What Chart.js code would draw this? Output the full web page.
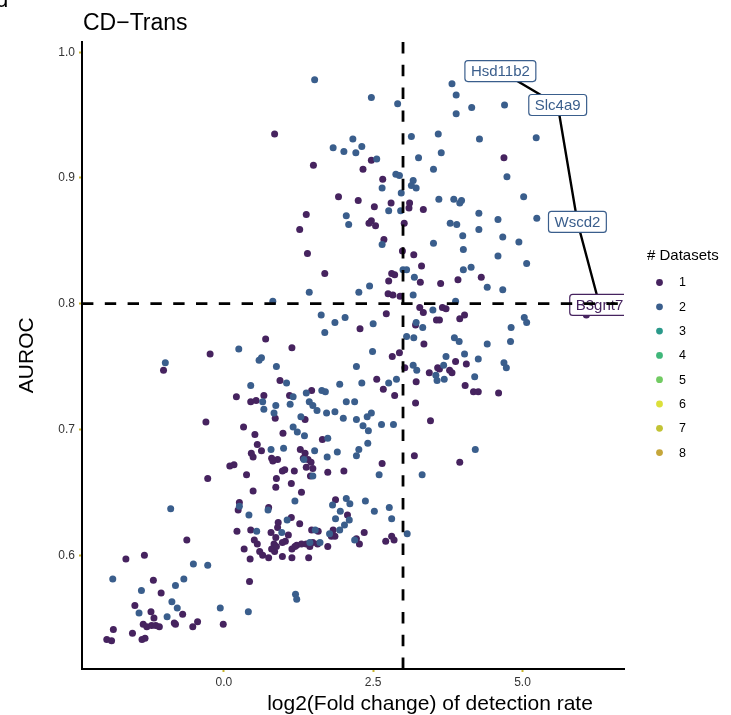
<!DOCTYPE html>
<html>
<head>
<meta charset="utf-8">
<script src="https://cdn.jsdelivr.net/npm/chart.js@4"></script>
<style>
body{margin:0;background:#fff}
#wrap{width:731px;height:715px;position:relative}
</style>
</head>
<body>
<div id="wrap"><canvas id="myChart" width="731" height="715"></canvas></div>
<script>

// genes found in 1 dataset (purple)
const oneX = [0.70,1.14,-0.23,-1.01,0.94,0.21,0.67,0.45,0.54,0.86,1.10,1.47,1.36,-0.30,0.33,0.52,0.99,1.65,0.56,0.63,
  0.46,0.49,0.80,0.90,0.82,1.28,1.36,1.33,1.41,1.46,1.38,1.49,1.45,1.74,0.10,0.17,0.98,1.02,1.18,0.88,
  0.38,-0.27,1.13,0.87,0.49,1.30,0.26,0.24,0.75,1.13,0.91,0.90,1.27,0.22,0.45,0.79,0.87,0.84,1.08,1.03,
  0.98,1.47,1.58,0.51,0.56,0.34,0.60,0.65,0.75,0.44,0.80,0.85,0.88,0.98,1.14,1.14,1.22,1.30,1.38,1.44,
  1.49,1.57,1.19,1.42,1.74,-0.62,-1.64,-1.33,-1.18,-1.05,0.43,-1.49,-1.22,-1.17,-0.69,-1.35,-1.29,-1.21,-1.14,-1.08,
  -0.83,-0.81,-0.52,-0.44,-0.01,-1.85,-1.53,-1.96,-1.88,-1.37,-1.32,0.85,1.50,2.47,2.33,2.66,1.92,2.25,2.52,2.80,
  3.11,3.10,3.34,1.38,1.27,2.47,2.43,2.54,3.02,2.68,1.40,2.99,3.18,1.69,3.31,2.81,2.86,2.76,3.29,3.63,
  3.92,4.31,2.75,2.83,2.95,2.72,3.28,3.34,3.66,3.72,3.56,3.61,3.95,4.03,2.28,3.21,4.69,6.07,3.35,2.82,
  2.94,3.03,3.88,4.06,3.44,3.58,3.61,3.78,3.82,2.56,2.67,3.22,2.86,4.04,4.18,4.26,4.60,3.21,3.46,2.65,
  3.19,3.95,2.01,1.87,2.07,1.83,1.80,1.86,2.35,2.22,2.27,2.71,2.81,2.85]
const oneY = [0.772,0.765,0.760,0.747,0.739,0.726,0.727,0.722,0.723,0.709,0.727,0.731,0.708,0.706,0.702,0.696,0.697,0.692,0.688,0.683,
  0.681,0.678,0.677,0.676,0.675,0.684,0.681,0.677,0.676,0.674,0.670,0.669,0.663,0.666,0.671,0.672,0.667,0.668,0.667,0.661,
  0.664,0.661,0.657,0.654,0.651,0.650,0.642,0.636,0.638,0.630,0.626,0.622,0.625,0.619,0.620,0.618,0.614,0.609,0.616,0.611,
  0.610,0.620,0.619,0.612,0.609,0.605,0.603,0.600,0.598,0.597,0.605,0.603,0.607,0.599,0.598,0.605,0.608,0.609,0.609,0.607,
  0.610,0.609,0.607,0.598,0.607,0.612,0.597,0.600,0.580,0.570,0.579,0.560,0.555,0.550,0.553,0.545,0.543,0.544,0.544,0.543,
  0.546,0.545,0.543,0.547,0.545,0.541,0.538,0.533,0.532,0.533,0.534,0.935,0.910,0.914,0.907,0.899,0.885,0.882,0.877,0.880,
  0.880,0.876,0.875,0.871,0.859,0.866,0.864,0.862,0.864,0.851,0.840,0.842,0.839,0.824,0.830,0.824,0.823,0.818,0.817,0.816,
  0.819,0.821,0.808,0.807,0.806,0.792,0.797,0.793,0.797,0.796,0.787,0.787,0.788,0.791,0.780,0.783,0.916,0.791,0.768,0.758,
  0.761,0.749,0.754,0.752,0.745,0.749,0.748,0.747,0.745,0.740,0.732,0.738,0.727,0.735,0.730,0.730,0.729,0.721,0.707,0.673,
  0.679,0.674,0.667,0.644,0.632,0.620,0.615,0.615,0.618,0.613,0.609,0.611,0.615,0.612]

// genes found in 2 datasets (blue)
const twoX = [1.69,0.25,0.59,0.63,-0.98,0.88,1.05,0.45,0.65,0.67,0.87,0.84,1.16,1.11,1.38,1.64,1.70,1.43,1.49,1.56,
  1.72,1.29,1.16,1.23,1.35,1.74,0.79,1.00,1.52,1.34,1.49,1.73,1.19,0.26,0.74,0.42,-0.89,1.06,0.55,0.97,
  1.53,1.44,1.61,-0.51,-0.27,-1.86,-0.67,-0.81,-1.38,-0.87,-0.78,-1.42,-0.95,-0.06,0.41,1.20,1.22,1.52,2.47,2.91,
  3.82,3.89,4.15,3.89,2.16,2.31,1.83,2.01,2.21,3.14,3.59,4.28,3.64,3.26,2.56,3.51,2.88,2.94,2.65,3.17,
  3.14,3.22,2.97,3.60,3.85,3.95,3.98,4.27,4.59,2.05,2.09,2.76,2.96,3.79,3.90,4.00,4.27,2.65,3.51,4.01,
  4.59,3.00,3.06,3.19,4.01,4.14,4.41,1.43,2.26,2.44,3.17,0.82,3.88,1.63,2.03,1.86,3.50,2.50,3.33,3.06,
  3.18,3.86,4.70,5.23,4.74,5.02,5.24,4.67,4.94,5.07,4.67,5.03,5.07,4.81,3.22,3.94,4.41,4.80,2.49,2.22,
  3.17,3.23,3.72,4.03,4.26,3.68,4.69,4.73,3.55,3.57,3.69,4.20,2.76,2.89,2.31,1.94,2.05,2.19,1.86,2.00,
  2.22,2.40,2.47,2.33,2.42,2.64,2.84,2.41,1.90,2.26,2.22,4.21,2.60,3.32,1.82,2.05,2.11,2.37,1.95,2.52,
  2.77,1.87,2.10,2.81,2.02,1.94,1.77,2.19,3.07]
const twoY = [0.777,0.764,0.755,0.757,0.753,0.750,0.737,0.735,0.722,0.716,0.719,0.713,0.726,0.720,0.729,0.731,0.730,0.722,0.719,0.715,
  0.713,0.710,0.702,0.698,0.695,0.693,0.684,0.685,0.683,0.676,0.663,0.678,0.643,0.639,0.636,0.632,0.637,0.628,0.619,0.618,
  0.620,0.610,0.610,0.593,0.592,0.581,0.581,0.576,0.572,0.563,0.558,0.554,0.551,0.558,0.555,0.569,0.565,0.978,0.964,0.959,
  0.975,0.966,0.956,0.951,0.931,0.925,0.924,0.921,0.920,0.933,0.935,0.931,0.920,0.916,0.915,0.907,0.903,0.902,0.892,0.898,
  0.894,0.892,0.888,0.883,0.883,0.880,0.882,0.872,0.867,0.870,0.863,0.874,0.874,0.864,0.863,0.854,0.859,0.847,0.848,0.843,
  0.838,0.827,0.827,0.821,0.827,0.829,0.813,0.809,0.809,0.814,0.807,0.802,0.802,0.791,0.789,0.785,0.795,0.784,0.781,0.774,
  0.773,0.773,0.958,0.932,0.901,0.885,0.868,0.853,0.849,0.832,0.811,0.789,0.785,0.781,0.785,0.770,0.768,0.770,0.762,0.750,
  0.751,0.747,0.758,0.760,0.756,0.751,0.753,0.749,0.743,0.739,0.740,0.742,0.737,0.740,0.737,0.736,0.722,0.722,0.714,0.709,
  0.708,0.710,0.713,0.703,0.699,0.704,0.704,0.689,0.682,0.684,0.679,0.684,0.664,0.664,0.640,0.645,0.641,0.643,0.635,0.635,
  0.638,0.629,0.628,0.629,0.624,0.620,0.617,0.612,0.617]

// labelled genes
const geneNames = ['Hsd11b2','Slc4a9','Wscd2','B3gnt7']
const geneX = [4.63,5.59,5.92,6.29]
const geneY = [0.985,0.958,0.865,0.799]
const geneGroup = [2,2,2,1]

// cut-offs
const foldCut = 3
const aurocCut = 0.8

// axes
const xTicks = [0,2.5,5]
const yTicks = [0.6,0.7,0.8,0.9,1.0]
const xMin = -2.375, xMax = 6.70
const yMin = 0.5095, yMax = 1.0085

// legend
const legendLabels = ['1','2','3','4','5','6','7','8']
const legendColors = ['#46235F','#3A5E8C','#2A998A','#40B77A','#72CB63','#DCE03A','#C2C334','#C5A63A']

const FONT = '"Liberation Sans", Arial, sans-serif'

function toPoints(xs,ys){
  return xs.map((v,i)=>({x:v,y:ys[i]}))
}

function drawGeneLabels(chart){
  const ctx=chart.ctx, a=chart.chartArea
  const sx=chart.scales.x, sy=chart.scales.y
  ctx.save()
  ctx.beginPath()
  ctx.rect(a.left,a.top,a.right-a.left,a.bottom-a.top)
  ctx.clip()
  ctx.font='15px '+FONT
  ctx.textAlign='center'
  ctx.textBaseline='middle'
  for(let i=0;i<geneNames.length;i++){
    const px=sx.getPixelForValue(geneX[i])
    const py=sy.getPixelForValue(geneY[i])
    const w=ctx.measureText(geneNames[i]).width+12
    const h=21
    const col=legendColors[geneGroup[i]-1]
    ctx.beginPath()
    ctx.roundRect(px-w/2,py-h/2,w,h,3)
    ctx.fillStyle='#fff'
    ctx.fill()
    ctx.lineWidth=1.2
    ctx.strokeStyle=col
    ctx.stroke()
    ctx.fillStyle=col
    ctx.fillText(geneNames[i],px,py+1)
  }
  ctx.restore()
}

const extras = {
  id:'extras',
  afterDatasetDraw(chart,args){
    if(args.meta.label==='path') drawGeneLabels(chart)
  },
  afterDraw(chart){
    const ctx=chart.ctx, a=chart.chartArea
    ctx.save()
    ctx.fillStyle='#000'
    // panel tag, cut at the top
    ctx.font='22px '+FONT
    ctx.textAlign='left'
    ctx.textBaseline='alphabetic'
    ctx.fillText('d',-4,7)
    // title
    ctx.font='23px '+FONT
    ctx.fillText('CD\u2212Trans',a.left+1,30)
    // x title
    ctx.font='21px '+FONT
    ctx.textAlign='center'
    ctx.fillText('log2(Fold change) of detection rate',430,710)
    // y title
    ctx.save()
    ctx.translate(33,(a.top+a.bottom)/2)
    ctx.rotate(-Math.PI/2)
    ctx.fillText('AUROC',0,0)
    ctx.restore()
    // legend
    ctx.textAlign='left'
    ctx.textBaseline='middle'
    ctx.font='15px '+FONT
    ctx.fillText('# Datasets',647,256)
    ctx.font='12.5px '+FONT
    for(let i=0;i<legendLabels.length;i++){
      const y=282.5+i*24.3
      ctx.beginPath()
      ctx.arc(659.5,y,3.4,0,Math.PI*2)
      ctx.fillStyle=legendColors[i]
      ctx.fill()
      ctx.fillStyle='#000'
      ctx.fillText(legendLabels[i],679,y+0.5)
    }
    ctx.restore()
  }
}

const config = {
  type:'scatter',
  data:{
    datasets:[
      {label:'vline',data:[{x:foldCut,y:yMin},{x:foldCut,y:yMax}],showLine:true,borderColor:'#000',borderWidth:2.8,
        borderDash:[11.4,11.4],pointRadius:0,order:1},
      {label:'hline',data:[{x:xMin,y:aurocCut},{x:xMax,y:aurocCut}],showLine:true,borderColor:'#000',borderWidth:2.8,
        borderDash:[11.4,11.4],pointRadius:0,order:2},
      {label:'path',data:toPoints(geneX,geneY),showLine:true,borderColor:'#000',borderWidth:2.4,pointRadius:0,order:3},
      {label:'2',data:toPoints(twoX,twoY),backgroundColor:legendColors[1],borderWidth:0,pointRadius:3.5,order:4},
      {label:'1',data:toPoints(oneX,oneY),backgroundColor:legendColors[0],borderWidth:0,pointRadius:3.5,order:5}
    ]
  },
  options:{
    responsive:false,
    animation:false,
    devicePixelRatio:1,
    layout:{padding:{top:41.5,right:107,bottom:0,left:0}},
    plugins:{legend:{display:false},tooltip:{enabled:false}},
    scales:{
      x:{
        type:'linear',min:xMin,max:xMax,
        afterFit:(s)=>{s.height=46},
        afterBuildTicks:(s)=>{s.ticks=xTicks.map(v=>({value:v}))},
        border:{display:true,color:'#000',width:2},
        grid:{display:true,drawOnChartArea:false,drawTicks:true,tickLength:3,tickColor:'#C9B52A',tickWidth:2},
        ticks:{padding:3,color:'#333',font:{size:12,family:FONT},callback:(v)=>Number(v).toFixed(1),maxRotation:0}
      },
      y:{
        type:'linear',min:yMin,max:yMax,
        afterFit:(s)=>{s.width=82},
        afterBuildTicks:(s)=>{s.ticks=yTicks.map(v=>({value:v}))},
        border:{display:true,color:'#000',width:2},
        grid:{display:true,drawOnChartArea:false,drawTicks:true,tickLength:3,tickColor:'#C9B52A',tickWidth:2},
        ticks:{padding:4,color:'#333',font:{size:12,family:FONT},callback:(v)=>Number(v).toFixed(1)}
      }
    }
  },
  plugins:[extras]
}

const myChart = new Chart(document.getElementById('myChart'),config)
</script>
</body>
</html>
